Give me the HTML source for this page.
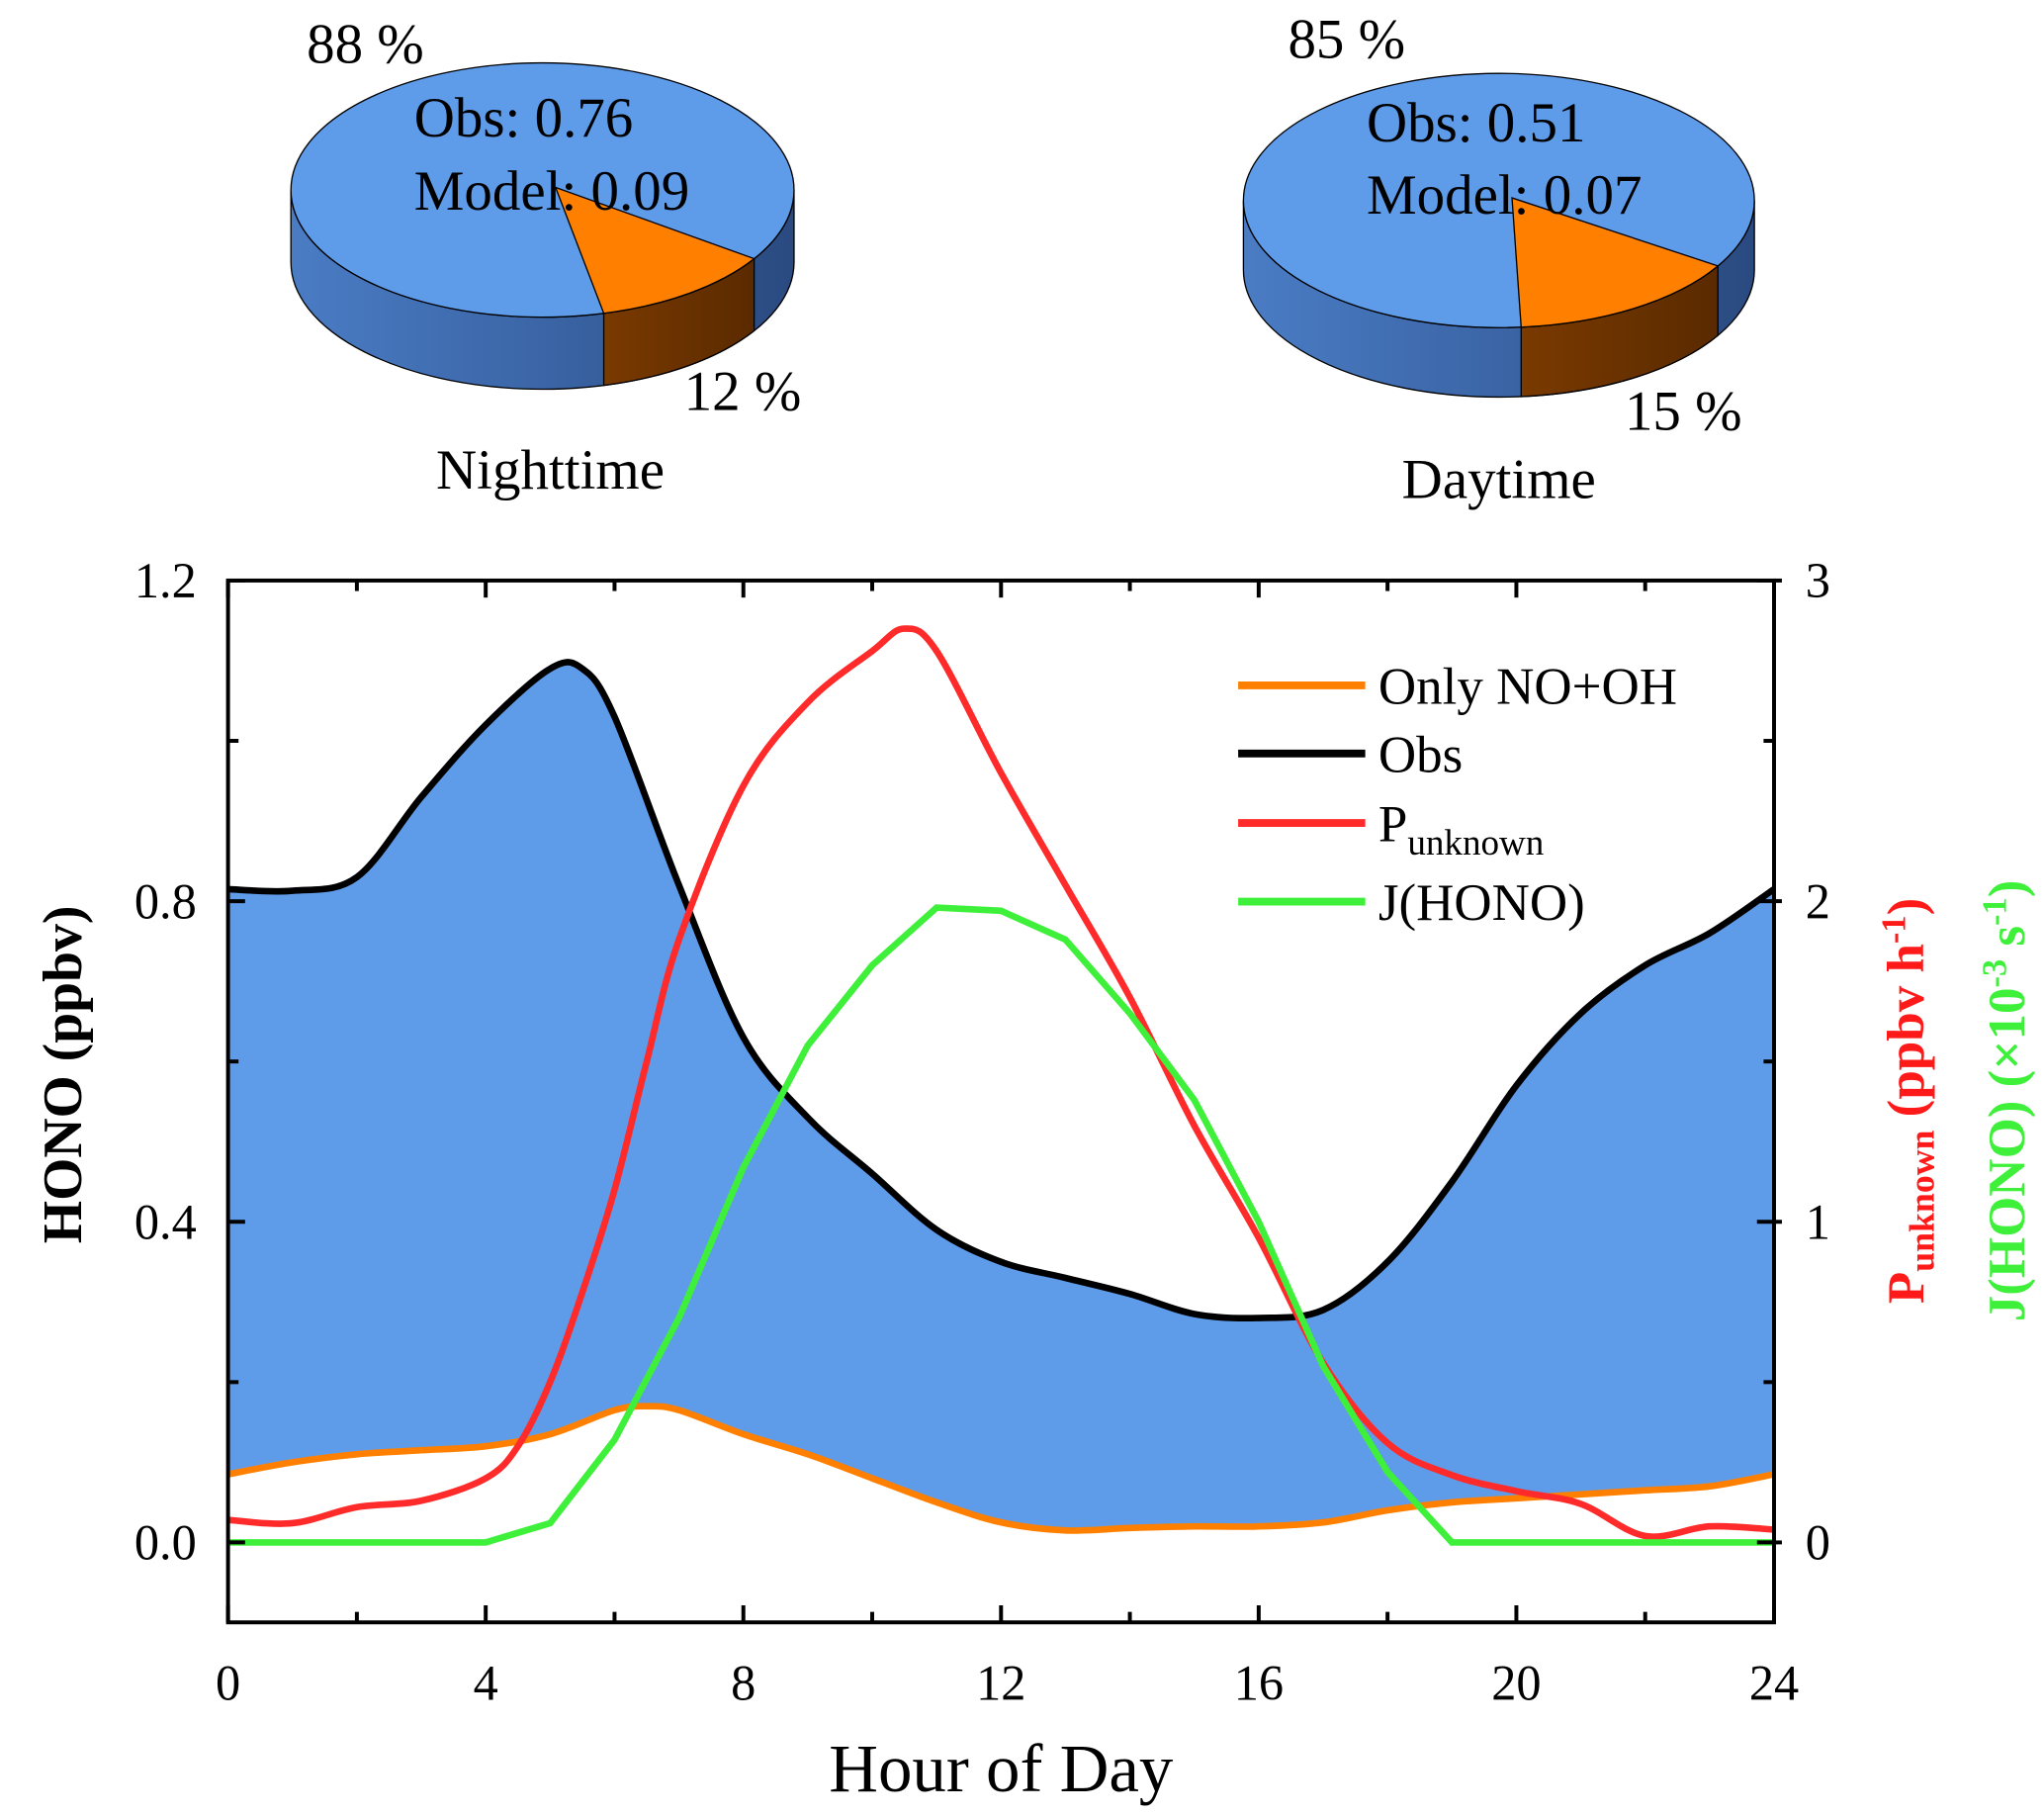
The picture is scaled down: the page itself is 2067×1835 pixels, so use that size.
<!DOCTYPE html>
<html><head><meta charset="utf-8"><style>
html,body{margin:0;padding:0;background:#fff}
svg{display:block}
text{font-family:"Liberation Serif",serif}
</style></head><body>
<svg id="c" width="2067" height="1835" viewBox="0 0 1560 1385" xmlns="http://www.w3.org/2000/svg">
<defs>
<linearGradient id="blueSide" x1="0" x2="1" y1="0" y2="0">
<stop offset="0" stop-color="#4a7cc4"/><stop offset="0.5" stop-color="#3b65a6"/><stop offset="1" stop-color="#2a4a80"/></linearGradient>
<linearGradient id="orSide" x1="0" x2="1" y1="0" y2="0">
<stop offset="0" stop-color="#7a3a00"/><stop offset="1" stop-color="#5a2a00"/></linearGradient>
</defs>
<g id="pies"></g>
<g id="plot"></g>
</svg>
<script>
const NS='http://www.w3.org/2000/svg';
const hours=[0,1,2,3,4,5,5.5,6,7,8,9,10,11,12,13,14,15,16,17,18,19,20,21,22,23,24];
const obsVals=[0.815,0.813,0.83,0.93,1.02,1.09,1.09,1.03,0.82,0.63,0.53,0.46,0.39,0.35,0.33,0.31,0.285,0.28,0.29,0.35,0.45,0.57,0.66,0.72,0.76,0.815];
const modelHours=[0,1,2,3,4,5,6,6.5,7,8,9,10,11,12,13,14,15,16,17,18,19,20,21,22,23,24];
const modelVals=[0.085,0.1,0.11,0.115,0.12,0.135,0.165,0.17,0.165,0.135,0.11,0.08,0.05,0.025,0.015,0.018,0.02,0.02,0.025,0.04,0.05,0.055,0.06,0.065,0.07,0.085];
const pHours=[0,1,2,3,4,4.5,5,5.5,6,6.5,7,8,9,10,10.5,11,12,13,14,15,16,17,18,19,20,21,22,23,24];
const pVals=[0.07,0.06,0.11,0.13,0.2,0.3,0.5,0.78,1.1,1.5,1.88,2.36,2.62,2.78,2.85,2.78,2.4,2.05,1.7,1.3,0.95,0.56,0.31,0.21,0.16,0.12,0.02,0.05,0.04];
const jHours=[0,1,2,3,4,5,6,7,8,9,10,11,12,13,14,15,16,17,18,19,20,21,22,23,24];
const jVals=[0,0,0,0,0,0.06,0.32,0.7,1.17,1.55,1.8,1.98,1.97,1.88,1.65,1.38,1.0,0.55,0.22,0,0,0,0,0,0];
const xTicks=[0,4,8,12,16,20,24];
const yTicks=[0,0.4,0.8,1.2];
const y2Ticks=[0,1,2,3];
const pieNight=[88,12];
const pieDay=[85,15];

const X0=174,X1=1354,YT=443,YB=1238;
const xs=h=>X0+(X1-X0)*h/24;
const ys=v=>1177-(1177-443)*v/1.2;
const y2s=v=>1177-(1177-443)*v/3;

function el(tag,attrs,parent){const e=document.createElementNS(NS,tag);for(const k in attrs)e.setAttribute(k,attrs[k]);(parent||document.getElementById('plot')).appendChild(e);return e;}
function smooth(pts){let d='M'+pts[0][0]+','+pts[0][1];for(let i=0;i<pts.length-1;i++){const p0=pts[i-1]||pts[i],p1=pts[i],p2=pts[i+1],p3=pts[i+2]||p2;const c1=[p1[0]+(p2[0]-p0[0])/6,p1[1]+(p2[1]-p0[1])/6],c2=[p2[0]-(p3[0]-p1[0])/6,p2[1]-(p3[1]-p1[1])/6];d+=`C${c1[0]},${c1[1]} ${c2[0]},${c2[1]} ${p2[0]},${p2[1]}`;}return d;}
const obsPts=hours.map((h,i)=>[xs(h),ys(obsVals[i])]);
const modPts=modelHours.map((h,i)=>[xs(h),ys(modelVals[i])]);
const modRev=modPts.slice().reverse();
let fd=smooth(obsPts)+' L'+modRev[0][0]+','+modRev[0][1]+smooth(modRev).replace(/^M[^C]*/,'')+'Z';
let f=el('path',{d:fd,fill:'#5e9be9',stroke:'none'});


let lm=el('path',{d:smooth(modPts),fill:'none',stroke:'#ff8000','stroke-width':5});


let lo=el('path',{d:smooth(obsPts),fill:'none',stroke:'#000','stroke-width':5});


let lp=el('path',{d:smooth(pHours.map((h,i)=>[xs(h),y2s(pVals[i])])),fill:'none',stroke:'#ff2a2a','stroke-width':5});


let lj=el('polyline',{points:jHours.map((h,i)=>xs(h)+','+y2s(jVals[i])).join(' '),fill:'none',stroke:'#3ef03a','stroke-width':5});


let fr=el('rect',{x:X0,y:YT,width:X1-X0,height:YB-YT,fill:'none',stroke:'#000','stroke-width':3});


for(let h=0;h<=24;h+=2){const L=h%4===0?13:8;el('line',{x1:xs(h),x2:xs(h),y1:YB,y2:YB-L,stroke:'#000','stroke-width':3});el('line',{x1:xs(h),x2:xs(h),y1:YT,y2:YT+L,stroke:'#000','stroke-width':3});}
xTicks.forEach(h=>{const t=el('text',{x:xs(h),y:1297,'font-size':38,'text-anchor':'middle'});t.textContent=h;});
for(let v=0;v<=1.2001;v+=0.2){const L=Math.round(v*10)%4===0?13:8;el('line',{x1:X0,x2:X0+L,y1:ys(v),y2:ys(v),stroke:'#000','stroke-width':3});}
yTicks.forEach(v=>{const t=el('text',{x:150,y:ys(v)+13,'font-size':38,'text-anchor':'end'});t.textContent=v.toFixed(1);});
for(let v=0;v<=3.001;v+=0.5){const L=(v%1===0)?13:8;el('line',{x1:X1,x2:X1-L,y1:y2s(v),y2:y2s(v),stroke:'#000','stroke-width':3});el('line',{x1:X1,x2:X1+(v%1===0?6:0),y1:y2s(v),y2:y2s(v),stroke:'#000','stroke-width':3});}
y2Ticks.forEach(v=>{const t=el('text',{x:1378,y:y2s(v)+13,'font-size':38});t.textContent=v;});
</script>
<script>
(function(){
const P=document.getElementById('plot');
function T(x,y,s,txt,name,extra){const t=document.createElementNS(NS,'text');t.setAttribute('x',x);t.setAttribute('y',y);t.setAttribute('font-size',s);for(const k in (extra||{}))t.setAttribute(k,extra[k]);t.innerHTML=txt;P.appendChild(t);return t;}
T(764,1367,52,'Hour of Day','x-axis-title',{'text-anchor':'middle'});
T(0,0,42,'HONO (ppbv)','y-axis-title',{'text-anchor':'middle','font-weight':'bold',transform:'translate(62,820) rotate(-90)'});
T(0,0,40,'P<tspan font-size="27" dy="8">unknown</tspan><tspan dy="-8"> (ppbv h</tspan><tspan font-size="26" dy="-14">-1</tspan><tspan dy="14">)</tspan>','y2-axis-title-punknown',{'text-anchor':'middle','font-weight':'bold',fill:'#ff1a1a',transform:'translate(1468,840) rotate(-90)'});
T(0,0,40,'J(HONO) (×10<tspan font-size="26" dy="-14">-3</tspan><tspan dy="14"> s</tspan><tspan font-size="26" dy="-14">-1</tspan><tspan dy="14">)</tspan>','y2-axis-title-jhono',{'text-anchor':'middle','font-weight':'bold',fill:'#3ef03a',transform:'translate(1545,840) rotate(-90)'});
const leg=[['Only NO+OH','#ff8000',523],['Obs','#000',575],['P<tspan font-size="28" dy="10">unknown</tspan>','#ff2a2a',628],['J(HONO)','#3ef03a',688]];
leg.forEach(([lab,c,y])=>{const l=document.createElementNS(NS,'line');l.setAttribute('x1',945);l.setAttribute('x2',1042);l.setAttribute('y1',y);l.setAttribute('y2',y);l.setAttribute('stroke',c);l.setAttribute('stroke-width',6);P.appendChild(l);T(1052,y+14,40,lab,'legend-entry');});
const G=document.getElementById('pies');
function pie(cx,cy,rx,ry,dep,vals,startDeg,name){
 const frac=vals[1]/(vals[0]+vals[1]);
 const a0=startDeg*Math.PI/180,a1=a0+frac*2*Math.PI;
 const p=a=>[cx+rx*Math.cos(a),cy+ry*Math.sin(a)];
 const g=document.createElementNS(NS,'g');G.appendChild(g);
 function path(d,fill,n){const e=document.createElementNS(NS,'path');e.setAttribute('d',d);e.setAttribute('fill',fill);e.setAttribute('stroke','#000');e.setAttribute('stroke-width',1);g.appendChild(e);}
 const L=p(Math.PI),R=p(0);
 path(`M${L[0]},${L[1]} A${rx},${ry} 0 0 0 ${R[0]},${R[1]} L${R[0]},${R[1]+dep} A${rx},${ry} 0 0 1 ${L[0]},${L[1]+dep}Z`,'url(#blueSide)','pie-side-blue');
 const s0=p(a0),s1=p(a1);
 path(`M${s0[0]},${s0[1]} A${rx},${ry} 0 0 1 ${s1[0]},${s1[1]} L${s1[0]},${s1[1]+dep} A${rx},${ry} 0 0 0 ${s0[0]},${s0[1]+dep}Z`,'url(#orSide)','pie-side-orange');
 path(`M${cx-rx},${cy} A${rx},${ry} 0 1 1 ${cx+rx},${cy} A${rx},${ry} 0 1 1 ${cx-rx},${cy}Z`,'#5e9be9','pie-top-blue');
 const ax=cx+10,ay=cy-2;
 path(`M${ax},${ay} L${s0[0]},${s0[1]} A${rx},${ry} 0 0 1 ${s1[0]},${s1[1]}Z`,'#ff8000','pie-top-orange');
}
pie(414,145,192,97,55,pieNight,32.7,'nighttime-pie');
pie(1144,153,195,97,53,pieDay,31,'daytime-pie');
function PT(x,y,s,txt,n,a){const t=document.createElementNS(NS,'text');t.setAttribute('x',x);t.setAttribute('y',y);t.setAttribute('font-size',s);if(a)t.setAttribute('text-anchor',a);t.textContent=txt;G.appendChild(t);}
PT(234,48,43,'88 %','night-obs-percent');
PT(316,104,43,'Obs: 0.76','night-obs-value');
PT(316,160,43,'Model: 0.09','night-model-value');
PT(522,313,43,'12 %','night-model-percent');
PT(420,373,43,'Nighttime','nighttime-label','middle');
PT(983,44,43,'85 %','day-obs-percent');
PT(1043,108,43,'Obs: 0.51','day-obs-value');
PT(1043,163,43,'Model: 0.07','day-model-value');
PT(1240,328,43,'15 %','day-model-percent');
PT(1144,380,43,'Daytime','daytime-label','middle');
})();
</script>
</body></html>
